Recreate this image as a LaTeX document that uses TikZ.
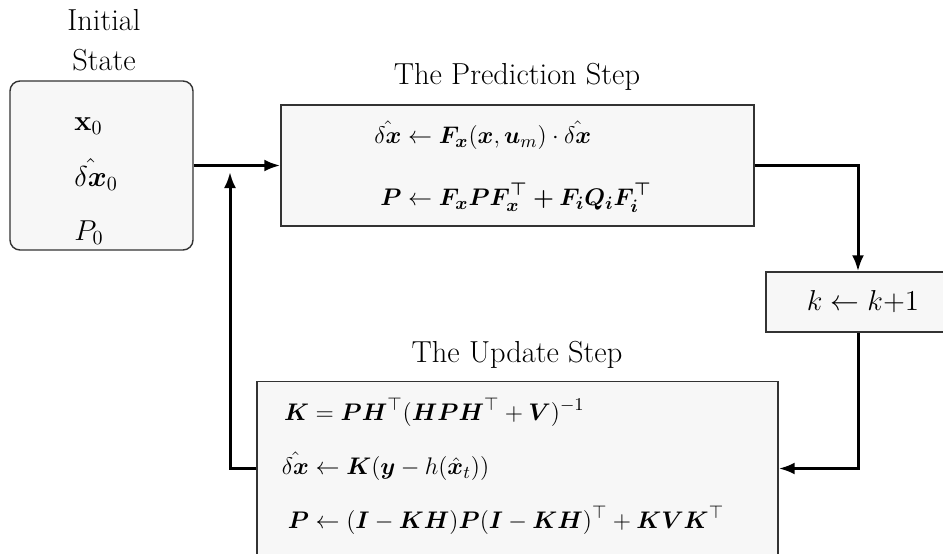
\documentclass[tikz,border=0pt]{standalone}
\usepackage{amsmath,amssymb,bm}
\usetikzlibrary{arrows.meta}
\begin{document}
\begin{tikzpicture}[x=0.5pt,y=-0.5pt,
  every node/.style={font=\fontsize{15.2}{20}\selectfont},
  mathsty/.style={inner sep=0pt,font=\fontsize{13.2}{16}\selectfont},
  boxsty/.style={draw=black!80,line width=0.7pt,fill=black!3,inner sep=0pt},
  lbl/.style={align=center,inner sep=0pt},
  arr/.style={line width=1.5pt,-{Latex[length=8pt,width=6pt]}}]
\useasboundingbox (0,0) rectangle (943,553);
% boxes
\node[boxsty,rounded corners=5pt,minimum width=91.5pt,minimum height=84.5pt] (init) at (101.5,165.5) {};
\node[boxsty,minimum width=236.5pt,minimum height=60.5pt] (pred) at (517.5,165.5) {};
\node[boxsty,minimum width=92pt,minimum height=30pt] (kb) at (858,302) {};
\node[boxsty,minimum width=260.5pt,minimum height=87pt] (upd) at (517.5,468.5) {};
% titles
\node[lbl,font=\fontsize{15.2}{20}\selectfont] (tinit) at (104,40) {Initial\\State};
\node[lbl] (tpred) at (517,77) {The Prediction Step};
\node[lbl] (tupd) at (517,355) {The Update Step};
% contents
\node[mathsty,font=\fontsize{14.5}{18}\selectfont,anchor=west] (cinit) at (74,178) {$\begin{array}{@{}l@{}}
\mathbf{x}_0\\[9pt]
\hat{\delta\bm{x}}_0\\[9pt]
P_0
\end{array}$};
\node[mathsty] (cpred) at (513,168) {$\begin{aligned}
\hat{\delta\bm{x}} &\leftarrow \bm{F_x}(\bm{x},\bm{u}_m)\cdot\hat{\delta\bm{x}}\\[11pt]
\bm{P} &\leftarrow \bm{F_x P F_x^\top + F_i Q_i F_i^\top}
\end{aligned}$};
\node[mathsty,font=\fontsize{14.5}{18}\selectfont] (ck) at (863,302) {$k \leftarrow k{+}1$};
\node[mathsty] (cupd) at (503,468) {$\begin{aligned}
\bm{K} &= \bm{PH}^\top(\bm{HPH}^\top+\bm{V})^{-1}\\[7pt]
\hat{\delta\bm{x}} &\leftarrow \bm{K}(\bm{y}-h(\hat{\bm{x}}_t))\\[7pt]
\bm{P} &\leftarrow (\bm{I}-\bm{KH})\bm{P}(\bm{I}-\bm{KH})^\top+\bm{KVK}^\top
\end{aligned}$};
% connectors
\coordinate (j) at (230,172);
\draw[arr] (init.east) -- (pred.west);
\draw[arr] (pred.east) -| (kb.north);
\draw[arr] (kb.south) |- (upd.east);
\draw[arr] (upd.west) -| (j);
\end{tikzpicture}
\end{document}
